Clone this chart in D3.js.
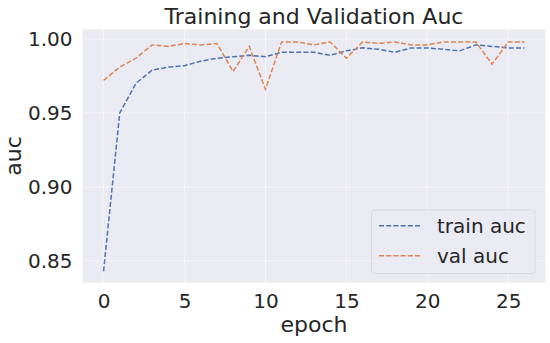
<!DOCTYPE html>
<meta charset="utf-8">
<script src="https://d3js.org/d3.v7.min.js"></script>
<style>
  body { margin: 0; background: #fff; }
  svg { font-family: "DejaVu Sans", sans-serif; }
</style>
<div id="chart"></div>
<script>

// data
var epochs = d3.range(0, 27)
var trainAuc = [0.843, 0.950, 0.970, 0.979, 0.981, 0.982, 0.985, 0.987, 0.988, 0.989,
                0.988, 0.991, 0.991, 0.991, 0.989, 0.992, 0.994, 0.993, 0.991, 0.994,
                0.994, 0.993, 0.992, 0.996, 0.995, 0.994, 0.994]
var valAuc = [0.972, 0.981, 0.987, 0.996, 0.995, 0.997, 0.996, 0.997, 0.978, 0.995,
              0.966, 0.998, 0.998, 0.996, 0.998, 0.987, 0.998, 0.997, 0.998, 0.996,
              0.996, 0.998, 0.998, 0.998, 0.983, 0.998, 0.998]
var xTicks = [0, 5, 10, 15, 20, 25]
var yTicks = [0.85, 0.90, 0.95, 1.00]
var seriesNames = ["train auc", "val auc"]
var seriesColors = ["#4c72b0", "#dd8452"]

var width = 550, height = 343
var margin = {top: 29.3, right: 4.5, bottom: 60.3, left: 82.5}

var svg = d3.select("#chart").append("svg")
  .attr("width", width)
  .attr("height", height)

var x = d3.scaleLinear()
  .domain([-1.3, 27.3])
  .range([margin.left, width - margin.right])

var y = d3.scaleLinear()
  .domain([0.83534, 1.00655])
  .range([height - margin.bottom, margin.top])

var midX = (margin.left + width - margin.right) / 2
var midY = (margin.top + height - margin.bottom) / 2

// plot background
svg.append("rect")
  .attr("x", margin.left)
  .attr("y", margin.top)
  .attr("width", width - margin.left - margin.right)
  .attr("height", height - margin.top - margin.bottom)
  .attr("fill", "#eaeaf2")

// grid
svg.append("g")
  .selectAll("line")
  .data(xTicks)
  .enter().append("line")
  .attr("x1", d => x(d)).attr("x2", d => x(d))
  .attr("y1", margin.top).attr("y2", height - margin.bottom)
  .attr("stroke", "#ffffff").attr("stroke-width", 1).attr("opacity", 0.6)

svg.append("g")
  .selectAll("line")
  .data(yTicks)
  .enter().append("line")
  .attr("y1", d => y(d)).attr("y2", d => y(d))
  .attr("x1", margin.left).attr("x2", width - margin.right)
  .attr("stroke", "#ffffff").attr("stroke-width", 1).attr("opacity", 0.6)

// axes (no tick marks, seaborn darkgrid)
var xAxis = svg.append("g")
  .attr("transform", "translate(0," + (height - margin.bottom) + ")")
  .call(d3.axisBottom(x).tickValues(xTicks).tickSize(0).tickPadding(11))
xAxis.select(".domain").remove()
xAxis.selectAll("text").attr("font-size", 20).attr("fill", "#262626")
  .attr("font-family", "DejaVu Sans")

var yAxis = svg.append("g")
  .attr("transform", "translate(" + margin.left + ",0)")
  .call(d3.axisLeft(y).tickValues(yTicks).tickFormat(d3.format(".2f")).tickSize(0).tickPadding(10))
yAxis.select(".domain").remove()
yAxis.selectAll("text").attr("font-size", 20).attr("fill", "#262626")
  .attr("font-family", "DejaVu Sans")

// lines
var line = d3.line()
  .x((d, i) => x(epochs[i]))
  .y(d => y(d))

;[trainAuc, valAuc].forEach(function(series, k) {
  svg.append("path")
    .datum(series)
    .attr("d", line)
    .attr("fill", "none")
    .attr("stroke", seriesColors[k])
    .attr("stroke-width", 1.5)
    .attr("stroke-dasharray", "5,2.2")
})

// titles
svg.append("text")
  .attr("x", midX)
  .attr("y", 23.5)
  .attr("text-anchor", "middle")
  .attr("font-size", 22)
  .attr("fill", "#262626")
  .text("Training and Validation Auc")

svg.append("text")
  .attr("x", midX)
  .attr("y", 331.5)
  .attr("text-anchor", "middle")
  .attr("font-size", 22)
  .attr("fill", "#262626")
  .text("epoch")

svg.append("text")
  .attr("transform", "translate(21," + midY + ") rotate(-90)")
  .attr("text-anchor", "middle")
  .attr("font-size", 22)
  .attr("fill", "#262626")
  .text("auc")

// legend
var legend = svg.append("g").attr("transform", "translate(371.5,210)")
legend.append("rect")
  .attr("width", 163.5).attr("height", 63.5).attr("rx", 3)
  .attr("fill", "#eaeaf2").attr("fill-opacity", 0.8)
  .attr("stroke", "#d8d8e0")

seriesNames.forEach(function(name, k) {
  var g = legend.append("g").attr("transform", "translate(0," + (15.7 + k * 30) + ")")
  g.append("line")
    .attr("x1", 7.5).attr("x2", 48.5)
    .attr("stroke", seriesColors[k]).attr("stroke-width", 1.5)
    .attr("stroke-dasharray", "5,2.2")
  g.append("text")
    .attr("x", 65.5).attr("dy", "0.35em")
    .attr("font-size", 20).attr("fill", "#262626")
    .text(name)
})

</script>
